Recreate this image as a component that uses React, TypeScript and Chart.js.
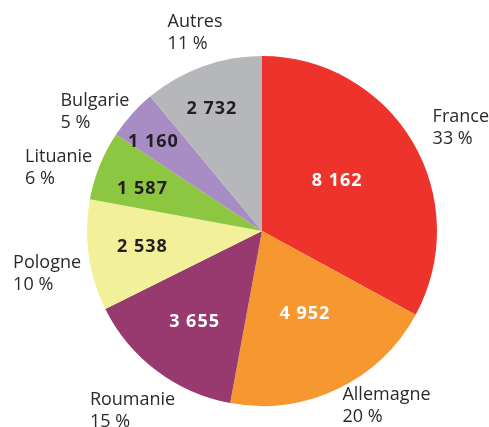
import React, { useEffect, useRef } from "react";
import { Chart, registerables } from "chart.js";

Chart.register(...registerables);

// ---- data ----
const countries = ["France", "Allemagne", "Roumanie", "Pologne", "Lituanie", "Bulgarie", "Autres"];
const values = [8162, 4952, 3655, 2538, 1587, 1160, 2732];
const sliceColors = ["#EE332D", "#F7972F", "#983A6F", "#F3F09A", "#8DC641", "#A78DC4", "#B6B7BB"];
const valueTextColors = ["#FFFFFF", "#FFFFFF", "#FFFFFF", "#231F20", "#231F20", "#231F20", "#231F20"];

// ---- label layout (relative to slice geometry) ----
const valueRadiusFactor = [0.52, 0.53, 0.64, 0.69, 0.73, 0.81, 0.76];
const valueNudge: [number, number][] = [[-3, -5], [3, -2], [0, 0], [0, -2], [-1, 4], [-3, 4], [-5, 2]];
const outerGap = 40;
const outerNudge: [number, number][] = [[14, 5], [32, -21], [0, 7], [-2, 12], [-4, 16], [-7, 23], [6, 3]];

const FONT = '"Open Sans", "DejaVu Sans", sans-serif';

function fmtThousands(v: number): string {
  const s = String(v);
  return s.replace(/\B(?=(\d{3})+(?!\d))/g, " ");
}

const labelPlugin = {
  id: "sliceLabels",
  afterDatasetsDraw(chart: any) {
    const ctx = chart.ctx as any;
    const meta = chart.getDatasetMeta(0);
    const data = chart.data.datasets[0].data as number[];
    const total = data.reduce((a, b) => a + b, 0);
    ctx.save();
    meta.data.forEach((arc: any, i: number) => {
      const p = arc.getProps(["x", "y", "startAngle", "endAngle", "outerRadius"], true);
      const mid = (p.startAngle + p.endAngle) / 2;
      const dx = Math.cos(mid);
      const dy = Math.sin(mid);
      // value inside slice
      const rv = p.outerRadius * valueRadiusFactor[i];
      const vx = p.x + dx * rv + valueNudge[i][0];
      const vy = p.y + dy * rv + valueNudge[i][1];
      ctx.font = `bold 18px ${FONT}`;
      ctx.letterSpacing = "1px";
      ctx.fillStyle = valueTextColors[i];
      ctx.textAlign = "center";
      ctx.textBaseline = "alphabetic";
      ctx.fillText(fmtThousands(data[i]), vx, vy + 6.5);
      // outside label
      ctx.letterSpacing = "0px";
      const ro = p.outerRadius + outerGap;
      const cx = p.x + dx * ro + outerNudge[i][0];
      const cy = p.y + dy * ro + outerNudge[i][1];
      const pct = Math.round((data[i] / total) * 100) + " %";
      ctx.font = `18px ${FONT}`;
      ctx.fillStyle = "#2A2A2A";
      ctx.textAlign = "left";
      const w = Math.max(ctx.measureText(countries[i]).width, ctx.measureText(pct).width);
      const left = cx - w / 2;
      ctx.fillText(chart.data.labels[i], left, cy - 4.5);
      ctx.fillText(pct, left, cy + 17.5);
    });
    ctx.restore();
  },
};

export default function App() {
  const ref = useRef<HTMLCanvasElement | null>(null);
  useEffect(() => {
    document.body.style.margin = "0";
    const canvas = ref.current;
    if (!canvas) return;
    const chart = new Chart(canvas, {
      type: "pie",
      data: {
        labels: countries,
        datasets: [
          {
            data: values,
            backgroundColor: sliceColors,
            borderWidth: 0,
            hoverOffset: 0,
            offset: 0,
          },
        ],
      },
      options: {
        responsive: false,
        animation: false,
        events: [],
        layout: { padding: { left: 87, right: 52, top: 56, bottom: 21 } },
        plugins: {
          legend: { display: false },
          tooltip: { enabled: false },
        },
      },
      plugins: [labelPlugin],
    });
    return () => chart.destroy();
  }, []);
  return (
    <div style={{ position: "absolute", left: 0, top: 0, width: 489, height: 427, background: "#FFFFFF" }}>
      <canvas ref={ref} width={489} height={427} style={{ width: 489, height: 427 }} />
    </div>
  );
}
